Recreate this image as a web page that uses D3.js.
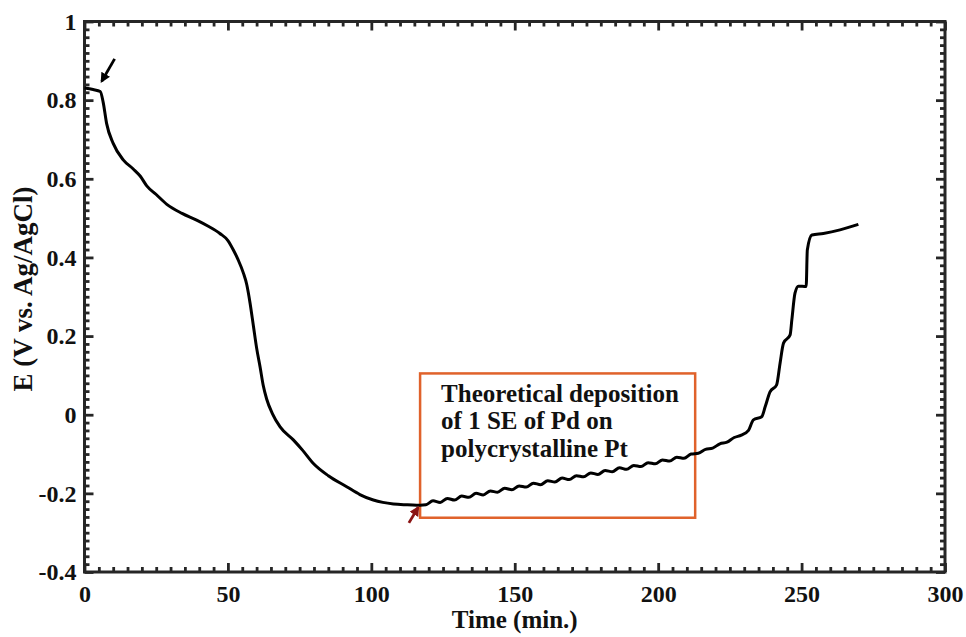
<!DOCTYPE html>
<html>
<head>
<meta charset="utf-8">
<script src="https://cdn.jsdelivr.net/npm/d3@7"></script>
<style>
    html, body { margin: 0; padding: 0; background: #fff; }
    svg text { font-family: "Liberation Serif", "Times New Roman", serif; font-weight: bold; fill: #111; }
</style>
</head>
<body>
<svg id="svg-wrapper" width="966" height="637"></svg>
<script>

// Define global variables
const WIDTH = 966;
const HEIGHT = 637;
const MARGIN = { left: 84.5, right: 21, top: 21.5, bottom: 65 };

// Data: time (min.) and potential (V vs. Ag/AgCl)
const timeMin = [
    0, 3, 5.5, 6.5, 7.7, 10, 13.5, 17, 19.4, 21.7, 25, 28.7, 34, 39.1, 43, 47.2,
    50, 51.9, 53.5, 55.4, 56.6, 57.7, 58.9, 60, 61.2, 62.3, 63.5, 65.5, 68.2, 72.8,
    76, 79.8, 85, 91.4, 96, 100.7, 104, 107.7, 112, 115.8,
    117, 119, 121.5, 124, 126.5, 129, 131.5, 134, 136.5, 139, 141.5, 144, 146.5,
    149, 151.5, 154, 156.5, 159, 161.5, 164, 166.5, 169, 171.5, 174, 176.5, 179,
    181.5, 184, 186.5, 189, 191.5, 194, 196.5, 199, 201.5, 204, 206.5, 209, 211.5,
    214, 216.5, 219, 221.5, 224, 226.5, 229, 231.5, 233.2, 236.1, 237.3, 239,
    241.3, 242.5, 243.7, 246, 246.6, 247.7, 248.9, 251.6, 252, 253.6, 257.6, 263.4, 269.8
];
const potentialV = [
    0.831, 0.827, 0.822, 0.795, 0.741, 0.690, 0.648, 0.625, 0.607, 0.582, 0.560, 0.535, 0.512, 0.495, 0.480, 0.461,
    0.443, 0.419, 0.395, 0.360, 0.330, 0.285, 0.225, 0.170, 0.122, 0.075, 0.040, 0.003, -0.031, -0.064,
    -0.090, -0.124, -0.155, -0.183, -0.203, -0.217, -0.223, -0.227, -0.229, -0.230,
    -0.230, -0.229, -0.219, -0.223, -0.213, -0.217, -0.207, -0.210, -0.200, -0.204, -0.194, -0.197, -0.187,
    -0.191, -0.181, -0.184, -0.174, -0.178, -0.168, -0.171, -0.161, -0.165, -0.155, -0.158, -0.148, -0.152,
    -0.142, -0.145, -0.135, -0.139, -0.129, -0.132, -0.122, -0.125, -0.115, -0.118, -0.108, -0.111, -0.100,
    -0.098, -0.088, -0.085, -0.074, -0.070, -0.058, -0.052, -0.040, -0.013, -0.005, 0.020, 0.058,
    0.076, 0.131, 0.182, 0.203, 0.241, 0.309, 0.327, 0.326, 0.419, 0.457, 0.461, 0.470, 0.484
];

const X_TICKS = [0, 50, 100, 150, 200, 250, 300];
const Y_TICKS = [-0.4, -0.2, 0, 0.2, 0.4, 0.6, 0.8, 1];
const X_MINOR_STEP = 5;
const Y_MINOR_STEP = 0.02;

const X_LABEL = "Time (min.)";
const Y_LABEL = "E (V vs. Ag/AgCl)";
const BOX_LINES = ["Theoretical deposition", "of 1 SE of Pd on", "polycrystalline Pt"];

// annotation anchors (data coords)
const boxExtent = { t0: 117, t1: 212.9, e0: -0.262, e1: 0.105 };
const blackArrow = { from: [10.5, 0.905], to: [6.0, 0.848] };
const redArrow = { from: [113.1, -0.275], to: [116.3, -0.236] };

const svgWrapper = d3.select('#svg-wrapper');

const x = d3.scaleLinear().domain([0, 300]).range([MARGIN.left, WIDTH - MARGIN.right]);
const y = d3.scaleLinear().domain([-0.4, 1]).range([HEIGHT - MARGIN.bottom, MARGIN.top]);

const fmt = d => String(+d.toFixed(1));
const xMinor = d3.range(0, 300 + 1e-9, X_MINOR_STEP).filter(v => v % 50 !== 0);
const yMinor = d3.range(-0.4, 1 + 1e-9, Y_MINOR_STEP).map(v => +v.toFixed(2))
    .filter(v => Math.abs(v * 5 - Math.round(v * 5)) > 1e-6);

const AXIS_COLOR = "#262626";
const MAJOR = 9, MINOR = 5;

function styleAxis(g) {
    g.select('.domain').remove();
    g.selectAll('line').attr('stroke', AXIS_COLOR).attr('stroke-width', 2.8);
    g.selectAll('text').attr('font-size', 24).attr('fill', '#111');
}

// bottom
svgWrapper.append('g')
    .attr('transform', `translate(0,${y.range()[0]})`)
    .call(d3.axisBottom(x).tickValues(X_TICKS).tickFormat(fmt).tickSizeInner(-MAJOR).tickSizeOuter(0).tickPadding(13))
    .call(styleAxis);
svgWrapper.append('g')
    .attr('transform', `translate(0,${y.range()[0]})`)
    .call(d3.axisBottom(x).tickValues(xMinor).tickFormat('').tickSizeInner(-MINOR).tickSizeOuter(0))
    .call(styleAxis);
// top
svgWrapper.append('g')
    .attr('transform', `translate(0,${y.range()[1]})`)
    .call(d3.axisTop(x).tickValues(X_TICKS).tickFormat('').tickSizeInner(-MAJOR).tickSizeOuter(0))
    .call(styleAxis);
svgWrapper.append('g')
    .attr('transform', `translate(0,${y.range()[1]})`)
    .call(d3.axisTop(x).tickValues(xMinor).tickFormat('').tickSizeInner(-MINOR).tickSizeOuter(0))
    .call(styleAxis);
// left
svgWrapper.append('g')
    .attr('transform', `translate(${x.range()[0]},0)`)
    .call(d3.axisLeft(y).tickValues(Y_TICKS).tickFormat(fmt).tickSizeInner(-MAJOR).tickSizeOuter(0).tickPadding(8))
    .call(styleAxis);
svgWrapper.append('g')
    .attr('transform', `translate(${x.range()[0]},0)`)
    .call(d3.axisLeft(y).tickValues(yMinor).tickFormat('').tickSizeInner(-MINOR).tickSizeOuter(0))
    .call(styleAxis);
// right
svgWrapper.append('g')
    .attr('transform', `translate(${x.range()[1]},0)`)
    .call(d3.axisRight(y).tickValues(Y_TICKS).tickFormat('').tickSizeInner(-MAJOR).tickSizeOuter(0))
    .call(styleAxis);
svgWrapper.append('g')
    .attr('transform', `translate(${x.range()[1]},0)`)
    .call(d3.axisRight(y).tickValues(yMinor).tickFormat('').tickSizeInner(-MINOR).tickSizeOuter(0))
    .call(styleAxis);

// frame
svgWrapper.append('rect')
    .attr('x', x.range()[0])
    .attr('y', y.range()[1])
    .attr('width', x.range()[1] - x.range()[0])
    .attr('height', y.range()[0] - y.range()[1])
    .attr('fill', 'none')
    .attr('stroke', AXIS_COLOR)
    .attr('stroke-width', 3);

// axis titles
svgWrapper.append('text')
    .attr('x', (x.range()[0] + x.range()[1]) / 2)
    .attr('y', 628)
    .attr('text-anchor', 'middle')
    .attr('font-size', 25)
    .text(X_LABEL);

svgWrapper.append('text')
    .attr('transform', `translate(32,289) rotate(-90)`)
    .attr('text-anchor', 'middle')
    .attr('font-size', 27)
    .text(Y_LABEL);

// orange annotation box
svgWrapper.append('rect')
    .attr('x', x(boxExtent.t0))
    .attr('y', y(boxExtent.e1))
    .attr('width', x(boxExtent.t1) - x(boxExtent.t0))
    .attr('height', y(boxExtent.e0) - y(boxExtent.e1))
    .attr('fill', 'none')
    .attr('stroke', '#E0622B')
    .attr('stroke-width', 2.5);

let boxText = svgWrapper.append('text')
    .attr('font-size', 25)
    .attr('x', x(boxExtent.t0) + 21)
    .attr('y', y(boxExtent.e1) + 28.5);
BOX_LINES.forEach((line, i) => {
    boxText.append('tspan')
        .attr('x', x(boxExtent.t0) + 21)
        .attr('dy', i === 0 ? 0 : 27.5)
        .text(line);
});

// curve
const series = timeMin.map((t, i) => [t, potentialV[i]]);
svgWrapper.append('path')
    .datum(series)
    .attr('fill', 'none')
    .attr('stroke', '#000')
    .attr('stroke-width', 3)
    .attr('stroke-linejoin', 'round')
    .attr('d', d3.line().x(d => x(d[0])).y(d => y(d[1])).curve(d3.curveMonotoneX));

// arrows
const defs = svgWrapper.append('defs');
function addMarker(id, color) {
    defs.append('marker')
        .attr('id', id)
        .attr('viewBox', '0 0 10 10')
        .attr('refX', 8)
        .attr('refY', 5)
        .attr('markerWidth', 3.6)
        .attr('markerHeight', 3.6)
        .attr('orient', 'auto')
        .append('path')
        .attr('d', 'M0,0 L10,5 L0,10 z')
        .attr('fill', color);
}
addMarker('head-black', '#000');
addMarker('head-red', '#8B1414');

function drawArrow(a, color, marker) {
    svgWrapper.append('line')
        .attr('x1', x(a.from[0]))
        .attr('y1', y(a.from[1]))
        .attr('x2', x(a.to[0]))
        .attr('y2', y(a.to[1]))
        .attr('stroke', color)
        .attr('stroke-width', 2.8)
        .attr('marker-end', `url(#${marker})`);
}
drawArrow(blackArrow, '#000', 'head-black');
drawArrow(redArrow, '#8B1414', 'head-red');

</script>
</body>
</html>
